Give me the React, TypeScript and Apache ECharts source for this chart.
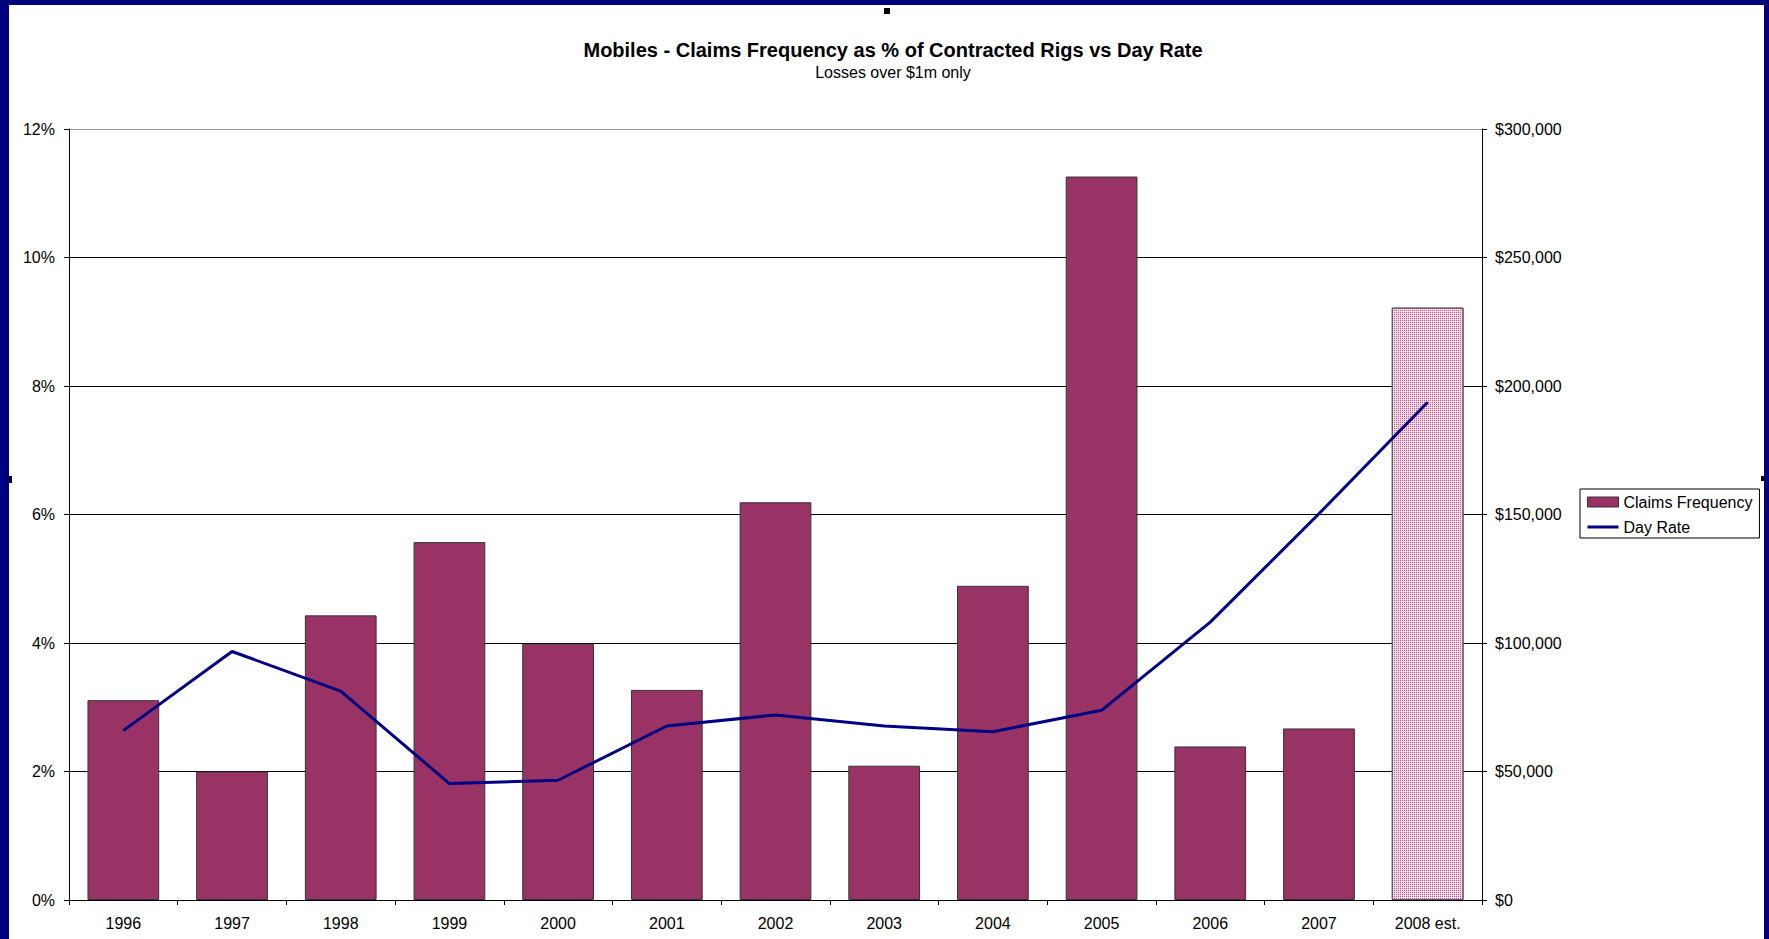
import React, { useEffect, useRef } from "react";
import * as echarts from "echarts";

const categories = ["1996", "1997", "1998", "1999", "2000", "2001", "2002", "2003", "2004", "2005", "2006", "2007", "2008 est."];
const claimsFrequency = [3.11, 2.0, 4.43, 5.57, 3.99, 3.27, 6.19, 2.09, 4.89, 11.26, 2.39, 2.67, 9.22];
const dayRate = [65900, 96700, 81300, 45300, 46600, 67700, 72000, 67700, 65500, 73800, 108100, 150300, 193700];
const estimateIndex = 12;
const titleText = "Mobiles - Claims Frequency as % of Contracted Rigs vs Day Rate";
const subtitleText = "Losses over $1m only";

const FONT = "'Liberation Sans', Arial, sans-serif";

export default function App() {
  const ref = useRef<HTMLDivElement>(null);
  useEffect(() => {
    if (!ref.current) return;
    const chart = echarts.init(ref.current, null, { renderer: "svg" });
    const barData = claimsFrequency.map((v, i) =>
      i === estimateIndex
        ? {
            value: v,
            itemStyle: {
              color: "#f5dbe7",
              borderColor: "#555",
              decal: {
                symbol: "rect",
                symbolSize: 1,
                dashArrayX: [1, 1],
                dashArrayY: [1, 1],
                color: "#c84f8a",
              },
            },
          }
        : v
    );
    const navy = "#00007c";
    chart.setOption({
      animation: false,
      backgroundColor: "#ffffff",
      textStyle: { fontFamily: FONT, color: "#000" },
      title: {
        text: titleText,
        subtext: subtitleText,
        left: 888,
        textAlign: "center",
        top: 35,
        itemGap: 4,
        textStyle: { fontFamily: FONT, fontSize: 20, fontWeight: "bold", color: "#000" },
        subtextStyle: { fontFamily: FONT, fontSize: 16, color: "#000" },
      },
      legend: {
        orient: "vertical",
        left: 1580,
        top: 489,
        padding: [5, 7, 3, 7],
        itemGap: 9,
        itemWidth: 31,
        itemHeight: 10,
        borderColor: "#000",
        borderWidth: 1,
        borderRadius: 0,
        textStyle: { fontFamily: FONT, fontSize: 16, color: "#000" },
        data: [
          { name: "Claims Frequency", icon: "rect", itemStyle: { color: "#993366", borderColor: "#333", borderWidth: 1, decal: "none" } },
          { name: "Day Rate", icon: "path://M0 0 H31 V3 H0 Z", itemStyle: { color: "#000080" } },
        ],
      },
      grid: { left: 69, right: 287, top: 129, bottom: 39, containLabel: false },
      xAxis: {
        type: "category",
        data: categories,
        axisLine: { lineStyle: { color: "#000", width: 1 } },
        axisTick: { show: true, length: 5, interval: 0, lineStyle: { color: "#000" } },
        axisLabel: { interval: 0, fontFamily: FONT, fontSize: 16, color: "#000", margin: 15 },
      },
      yAxis: [
        {
          type: "value",
          min: 0,
          max: 12,
          interval: 2,
          position: "left",
          axisLine: { show: true, lineStyle: { color: "#000" } },
          axisTick: { show: true, length: 5, lineStyle: { color: "#000" } },
          axisLabel: { formatter: "{value}%", fontFamily: FONT, fontSize: 16, color: "#000", margin: 14 },
          splitLine: { show: true, lineStyle: { color: ["#000", "#000", "#000", "#000", "#000", "#000", "#999"], width: 1 } },
        },
        {
          type: "value",
          min: 0,
          max: 300000,
          interval: 50000,
          position: "right",
          axisLine: { show: true, lineStyle: { color: "#000" } },
          axisTick: { show: true, length: 5, lineStyle: { color: "#000" } },
          axisLabel: {
            formatter: (v: number) => "$" + v.toLocaleString("en-US"),
            fontFamily: FONT,
            fontSize: 16,
            color: "#000",
            margin: 13,
          },
          splitLine: { show: false },
        },
      ],
      series: [
        {
          name: "Claims Frequency",
          type: "bar",
          yAxisIndex: 0,
          barWidth: "66%",
          data: barData,
          itemStyle: { color: "#993366", borderColor: "#333", borderWidth: 1 },
        },
        {
          name: "Day Rate",
          type: "line",
          yAxisIndex: 1,
          data: dayRate,
          symbol: "none",
          showSymbol: false,
          lineStyle: { color: "#000080", width: 3 },
          itemStyle: { color: "#000080" },
          z: 5,
        },
      ],
      graphic: [
        { type: "rect", left: 0, top: 0, shape: { width: 9, height: 939 }, style: { fill: navy }, silent: true },
        { type: "rect", left: 0, top: 0, shape: { width: 1769, height: 5 }, style: { fill: navy }, silent: true },
        { type: "rect", left: 1764, top: 0, shape: { width: 5, height: 939 }, style: { fill: navy }, silent: true },
        { type: "rect", left: 884, top: 8, shape: { width: 6, height: 6 }, style: { fill: "#000" }, silent: true },
        { type: "rect", left: 9, top: 476, shape: { width: 3, height: 7 }, style: { fill: "#000" }, silent: true },
        { type: "rect", left: 1761, top: 476, shape: { width: 3, height: 5 }, style: { fill: "#000" }, silent: true },
      ],
    });
    return () => chart.dispose();
  }, []);
  return (
    <div
      ref={ref}
      style={{ position: "fixed", left: 0, top: 0, width: "1769px", height: "939px" }}
    />
  );
}
